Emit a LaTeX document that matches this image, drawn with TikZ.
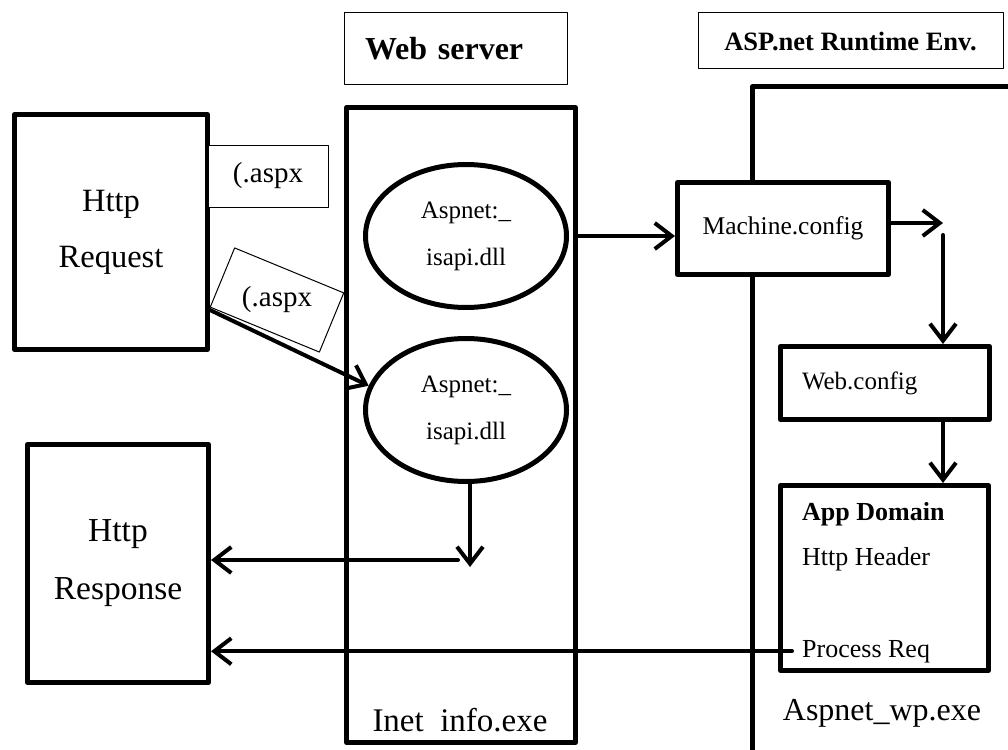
\documentclass[tikz,border=0pt]{standalone}
\usepackage{fontspec}
\setmainfont{Liberation Serif}
\usetikzlibrary{arrows.meta,positioning,shapes.geometric}

\begin{document}
\begin{tikzpicture}[x=1pt, y=-1pt, line cap=round, line join=round,
		box/.style={draw, line width=5pt, fill=white, inner sep=0pt},
		tag/.style={draw, line width=1pt, fill=white, inner sep=0pt},
		oval/.style={draw, ellipse, line width=5pt, fill=white, inner sep=0pt, minimum width=201pt, minimum height=143pt, align=center, font=\fontsize{25}{47}\selectfont},
		arr/.style={line width=4pt, -{Straight Barb[length=17pt, width=26pt]}}]
					\useasboundingbox (0,0) rectangle (1008,749);
					\draw[line width=5pt] (752,755) -- (752,87) -- (1015,87);

					\node[box, minimum width=193pt, minimum height=235pt, align=center, font=\fontsize{32.5}{56}\selectfont] (req) at (111,232) {Http\\Request};
					\node[box, minimum width=181pt, minimum height=238pt, align=center, font=\fontsize{33.5}{58}\selectfont] (resp) at (118,563.5) {Http\\Response};
					\node[tag, minimum width=120pt, minimum height=62pt, font=\fontsize{29}{30}\selectfont] (ext1) at (268,176) {(.aspx};
					\node[tag, minimum width=118pt, minimum height=64pt, rotate=-22.4] (ext2) at (277,300) {};
					\node[font=\fontsize{29}{30}\selectfont] (ext2txt) at (ext2) {(.aspx};

					\node[tag, minimum width=223pt, minimum height=72pt, text width=181pt, inner xsep=21pt, align=left, font=\bfseries\fontsize{32}{34}\selectfont] (wslbl) at (455.5,49) {Web server};
					\node[tag, minimum width=305pt, minimum height=56pt, font=\bfseries\fontsize{26.5}{28}\selectfont] (asplbl) at (850.5,41) {ASP.net Runtime Env.};

					\node[box, minimum width=229pt, minimum height=635pt] (websrv) at (461,425) {};
					\node[font=\fontsize{33}{35}\selectfont] (inet) at (460,720) {Inet\ \ info.exe};
					\node[oval] (upell) at (466,236) {Aspnet:\_\\isapi.dll};
					\node[oval] (lowell) at (466,410) {Aspnet:\_\\isapi.dll};

					\node[box, minimum width=211pt, minimum height=92pt, font=\fontsize{25.5}{27}\selectfont] (mach) at (783,228.5) {Machine.config};
					\node[box, minimum width=209pt, minimum height=73pt, text width=166pt, inner xsep=21.5pt, align=left, font=\fontsize{25}{27}\selectfont] (webcfg) at (885,383) {Web.config};
					\node[box, minimum width=208pt, minimum height=185pt] (appdom) at (884.5,578) {};
					\node[anchor=base west, inner sep=0pt, font=\bfseries\fontsize{26}{28}\selectfont] (appttl) at (802,520) {App Domain};
					\node[anchor=base west, inner sep=0pt, font=\fontsize{26}{28}\selectfont] (apphdr) at (802,565) {Http Header};
					\node[anchor=base west, inner sep=0pt, font=\fontsize{26}{28}\selectfont] (procreq) at (802,657) {Process Req};
					\node[font=\fontsize{32}{34}\selectfont] (wpexe) at (882,713) {Aspnet\_wp.exe};

					\coordinate (turn) at (943,223);
					\coordinate (retdown) at (470,567);
					\coordinate (retleft) at (458,560);

					\draw[arr] ([yshift=-78pt]req.east) -- (lowell.166);
					\draw[arr] (websrv.east |- upell) -- (mach.west |- upell);
					\draw[arr] (mach.east |- turn) -- (turn);
					\draw[arr] ([yshift=-12pt]turn) -- (turn |- webcfg.north);
					\draw[arr] (turn |- webcfg.south) -- (turn |- appdom.north);
					\draw[arr] (lowell.south -| retdown) -- (retdown);
					\draw[arr] (retleft) -- (resp.east |- retleft);
					\draw[arr] ([xshift=-10pt]procreq.west) -- (resp.east |- procreq.west);
				\end{tikzpicture}
\end{document}
